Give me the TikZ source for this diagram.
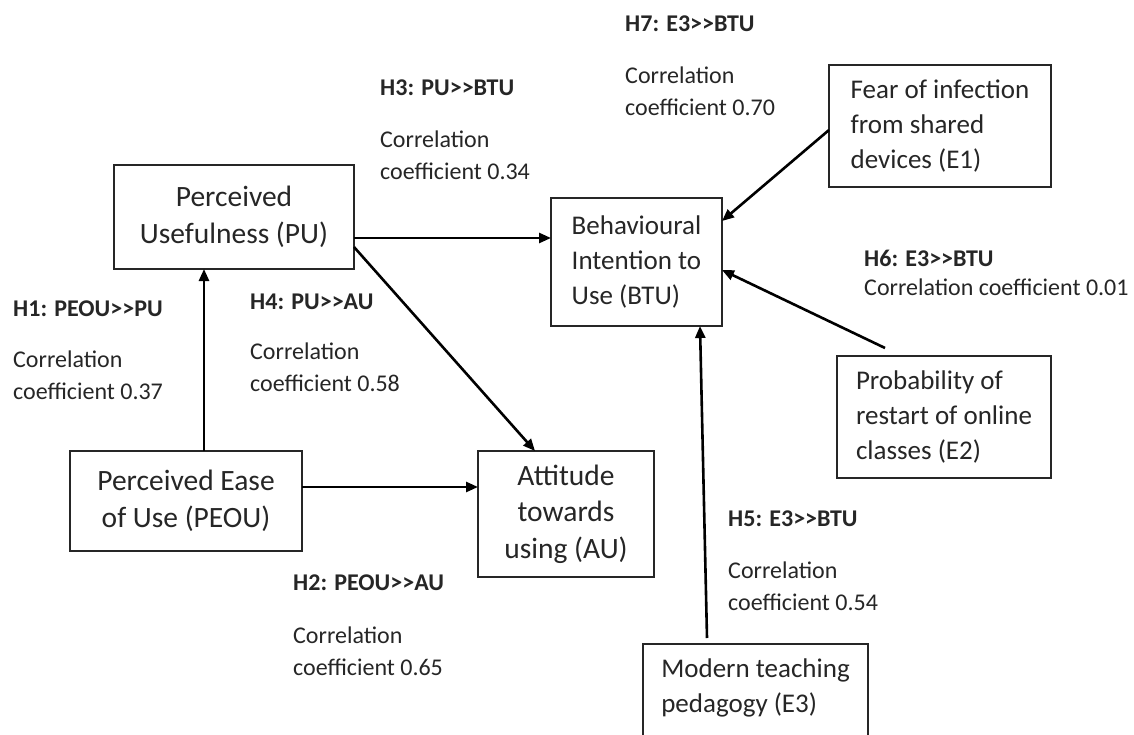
\documentclass[tikz,border=0pt]{standalone}
\usepackage{fontspec}
\setmainfont{Carlito}
\usetikzlibrary{arrows.meta}
\newcommand\gtgt{>\kern0pt>}
\begin{document}
\begin{tikzpicture}[x=1pt,y=-1pt,
  box/.style={draw=black!85, line width=1.5pt, inner sep=0pt, outer sep=0pt,
    font=\fontsize{27}{35}\selectfont, text=black!85},
  cbox/.style={box, align=center, font=\fontsize{29.5}{36.5}\selectfont},
  arr/.style={line width=2.6pt, -{Triangle[length=12pt,width=10pt]}},
  hd/.style={font=\bfseries\fontsize{24}{31}\selectfont, anchor=west, inner sep=0pt, text=black!85},
  bd/.style={font=\fontsize{24}{32}\selectfont, anchor=west, inner sep=0pt, align=left, text=black!85}]
\useasboundingbox[fill=white] (0,0) rectangle (1134,735);

% boxes
\node[cbox, minimum width=240pt, minimum height=104pt] (pu) at (234,217) {Perceived\\Usefulness (PU)};
\node[cbox, minimum width=232pt, minimum height=100pt] (peou) at (186,501) {Perceived Ease\\of Use (PEOU)};
\node[cbox, minimum width=176pt, minimum height=126pt] (au) at (566,514) {Attitude\\towards\\using (AU)};
\node[box, align=left, minimum width=171pt, minimum height=128pt] (btu) at (636.5,262) {Behavioural\\Intention to\\Use (BTU)};
\node[box, align=left, minimum width=222pt, minimum height=122pt] (e1) at (940,126) {Fear of infection\\from shared\\devices (E1)};
\node[box, align=left, minimum width=214pt, minimum height=122pt] (e2) at (944,417) {Probability of\\restart of online\\classes (E2)};
\node[box, align=left, minimum width=225pt, inner ysep=15pt, anchor=north west] (e3) at (643,644) {Modern teaching\\pedagogy (E3)\rule[-70pt]{0pt}{0pt}};

% free ends
\coordinate (e2s) at (885,348);
\coordinate (e3s) at (707,638);

% connectors
\draw[arr] (peou.north -| 204,0) -- (pu.south -| 204,0);
\draw[arr] (peou.east |- 0,487) -- (au.west |- 0,487);
\draw[arr] (pu.east |- 0,238) -- (btu.west |- 0,238);
\draw[arr] (pu.east |- 0,247) -- (au.north -| 535,0);
\draw[arr] (e1.west |- 0,130) -- (btu.east |- 0,221);
\draw[arr] (e2s) -- (btu.east |- 0,270);
\draw[arr] (e3s) -- (btu.south -| 700,0);

% labels
\node[hd] (h1) at (13,309) {H1: PEOU\gtgt PU};
\node[bd] (c1) at (13,375.5) {Correlation\\coefficient 0.37};
\node[hd] (h4) at (250,302) {H4: PU\gtgt AU};
\node[bd] (c4) at (250,367.5) {Correlation\\coefficient 0.58};
\node[hd] (h3) at (380,88) {H3: PU\gtgt BTU};
\node[bd] (c3) at (380,155) {Correlation\\coefficient 0.34};
\node[hd] (h7) at (625,24) {H7: E3\gtgt BTU};
\node[bd] (c7) at (625,91.5) {Correlation\\coefficient 0.70};
\node[hd] (h6) at (864,258) {H6: E3\gtgt BTU};
\node[bd] (c6) at (864,287) {Correlation coefficient 0.01};
\node[hd] (h5) at (728,519) {H5: E3\gtgt BTU};
\node[bd] (c5) at (728,586.5) {Correlation\\coefficient 0.54};
\node[hd] (h2) at (293,583) {H2: PEOU\gtgt AU};
\node[bd] (c2) at (293,651) {Correlation\\coefficient 0.65};
\end{tikzpicture}
\end{document}
